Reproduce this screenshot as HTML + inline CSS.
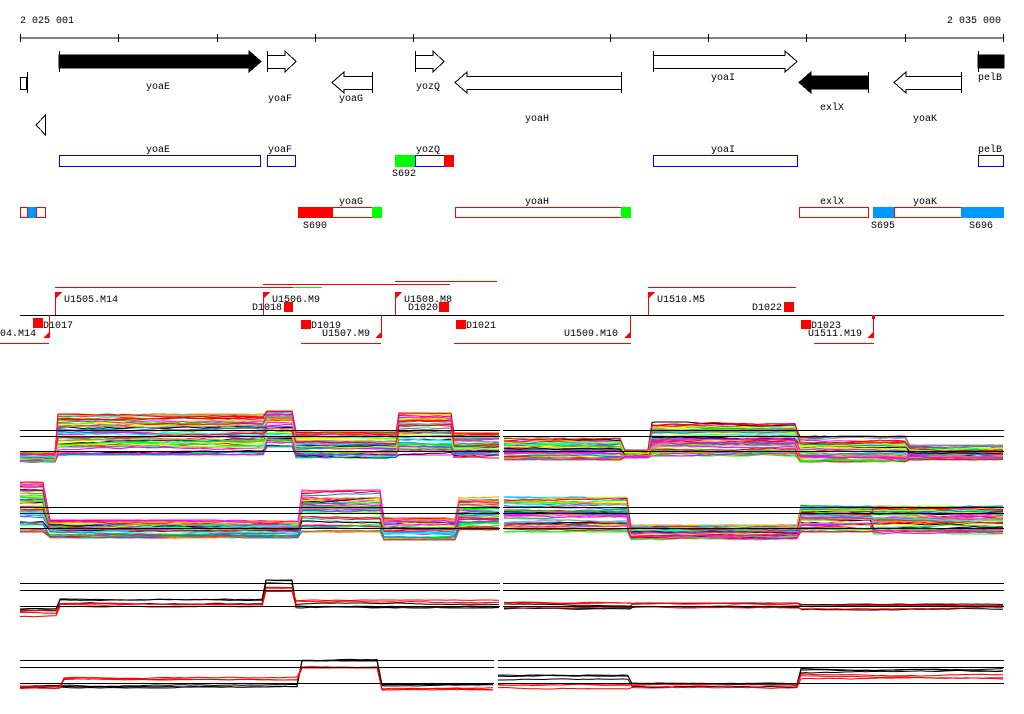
<!DOCTYPE html>
<html><head><meta charset="utf-8"><style>
html,body{margin:0;padding:0;background:#fff}
svg{display:block}
text{font-family:"Liberation Mono",monospace;font-size:10px;fill:#000}
</style></head><body>
<svg id="s" width="1024" height="714" viewBox="0 0 1024 714" xmlns="http://www.w3.org/2000/svg" shape-rendering="crispEdges">
<text x="20" y="23">2 025 001</text>
<text x="947" y="23">2 035 000</text>
<line x1="20" y1="38" x2="1004" y2="38" stroke="#000"/>
<g stroke="#000">
<line x1="20.5" y1="34" x2="20.5" y2="42"/><line x1="118.5" y1="34" x2="118.5" y2="42"/><line x1="217.5" y1="34" x2="217.5" y2="42"/><line x1="315.5" y1="34" x2="315.5" y2="42"/><line x1="413.5" y1="34" x2="413.5" y2="42"/><line x1="610.5" y1="34" x2="610.5" y2="42"/><line x1="708.5" y1="34" x2="708.5" y2="42"/><line x1="806.5" y1="34" x2="806.5" y2="42"/><line x1="905.5" y1="34" x2="905.5" y2="42"/><line x1="1003.5" y1="34" x2="1003.5" y2="42"/>
</g>
<g stroke="#000" fill="#fff">
<rect x="20.5" y="77.5" width="6" height="12"/><line x1="27.5" y1="72" x2="27.5" y2="93"/>
<polygon points="59,55 249,55 249,51 261,61.5 249,72 249,68 59,68" fill="#000"/><line x1="59.5" y1="51" x2="59.5" y2="72"/>
<polygon points="267.5,55.5 285,55.5 285,51 296,61.5 285,72 285,68.5 267.5,68.5"/><line x1="267.5" y1="51" x2="267.5" y2="72"/>
<polygon points="415.5,55.5 433,55.5 433,51 444,61.5 433,72 433,68.5 415.5,68.5"/><line x1="415.5" y1="51" x2="415.5" y2="72"/>
<polygon points="372.5,76.5 344,76.5 344,72 332,82.5 344,93 344,89.5 372.5,89.5"/><line x1="372.5" y1="72" x2="372.5" y2="93"/>
<polygon points="621.5,76.5 467,76.5 467,72 455,82.5 467,93 467,89.5 621.5,89.5"/><line x1="621.5" y1="72" x2="621.5" y2="93"/>
<polygon points="653.5,55.5 785,55.5 785,51 797,61.5 785,72 785,68.5 653.5,68.5"/><line x1="653.5" y1="51" x2="653.5" y2="72"/>
<polygon points="868,76 811,76 811,72 799,82.5 811,93 811,89 868,89" fill="#000"/><line x1="868.5" y1="72" x2="868.5" y2="93"/>
<polygon points="961.5,76.5 906,76.5 906,72 894,82.5 906,93 906,89.5 961.5,89.5"/><line x1="961.5" y1="72" x2="961.5" y2="93"/>
<rect x="978" y="55" width="26" height="13" fill="#000"/><line x1="978.5" y1="51" x2="978.5" y2="72"/>
<polygon points="45.5,115 45.5,135 36,125"/>
</g>
<text x="146" y="89">yoaE</text><text x="268" y="101">yoaF</text><text x="339" y="101">yoaG</text><text x="416" y="89">yozQ</text>
<text x="525" y="121">yoaH</text><text x="711" y="80">yoaI</text><text x="820" y="110">exlX</text><text x="913" y="121">yoaK</text><text x="978" y="80">pelB</text>
<g fill="#fff" stroke="#0000ff">
<rect x="59.5" y="155.5" width="201" height="11"/><rect x="267.5" y="155.5" width="28" height="11"/><rect x="415.5" y="155.5" width="29" height="11"/><rect x="653.5" y="155.5" width="144" height="11"/><rect x="978.5" y="155.5" width="25" height="11"/>
</g>
<rect x="395" y="155" width="20" height="12" fill="#00ff00"/><rect x="444" y="155" width="10" height="12" fill="#ff0000"/>
<text x="146" y="152">yoaE</text><text x="268" y="152">yoaF</text><text x="416" y="152">yozQ</text><text x="711" y="152">yoaI</text><text x="978" y="152">pelB</text>
<text x="392" y="176">S692</text>
<g fill="#fff" stroke="#ff0000">
<rect x="20.5" y="207.5" width="7" height="10"/><rect x="36.5" y="207.5" width="9" height="10"/><rect x="332.5" y="207.5" width="40" height="10"/><rect x="455.5" y="207.5" width="166" height="10"/><rect x="799.5" y="207.5" width="69" height="10"/><rect x="894.5" y="207.5" width="67" height="10"/>
</g>
<rect x="28" y="207" width="8" height="11" fill="#0099ff"/>
<rect x="298" y="207" width="35" height="11" fill="#ff0000"/><rect x="372" y="207" width="10" height="11" fill="#00ff00"/>
<rect x="621" y="207" width="10" height="11" fill="#00ff00"/>
<rect x="873" y="207" width="21" height="11" fill="#0099ff"/><rect x="961" y="207" width="43" height="11" fill="#0099ff"/>
<text x="339" y="204">yoaG</text><text x="525" y="204">yoaH</text><text x="820" y="204">exlX</text><text x="913" y="204">yoaK</text>
<text x="303" y="228">S690</text><text x="871" y="228">S695</text><text x="969" y="228">S696</text>
<line x1="20" y1="315.5" x2="1004" y2="315.5" stroke="#000"/>
<g stroke="#ff0000">
<line x1="55" y1="287.5" x2="293" y2="287.5"/><line x1="263" y1="284.5" x2="450" y2="284.5"/><line x1="395" y1="281.5" x2="497" y2="281.5"/><line x1="648" y1="287.5" x2="796" y2="287.5"/>
<line x1="0" y1="343.5" x2="49" y2="343.5"/><line x1="301" y1="343.5" x2="381" y2="343.5"/><line x1="454" y1="343.5" x2="631" y2="343.5"/><line x1="814" y1="343.5" x2="874" y2="343.5"/>
<line x1="55.5" y1="292" x2="55.5" y2="315"/><line x1="263.5" y1="292" x2="263.5" y2="315"/><line x1="395.5" y1="292" x2="395.5" y2="315"/><line x1="648.5" y1="292" x2="648.5" y2="315"/>
<line x1="49.5" y1="315" x2="49.5" y2="338"/><line x1="381.5" y1="315" x2="381.5" y2="338"/><line x1="630.5" y1="315" x2="630.5" y2="338"/><line x1="873.5" y1="315" x2="873.5" y2="338"/>
</g>
<line x1="293" y1="287.5" x2="322" y2="287.5" stroke="#00ff00"/>
<g fill="#ff0000">
<polygon points="55,292 62,292 55,299"/><polygon points="263,292 270,292 263,299"/><polygon points="395,292 402,292 395,299"/><polygon points="648,292 655,292 648,299"/>
<polygon points="50,338 43,338 50,331"/><polygon points="382,338 375,338 382,331"/><polygon points="631,338 624,338 631,331"/><polygon points="874,338 867,338 874,331"/>
<rect x="33" y="318" width="10" height="10"/><rect x="284" y="302" width="9" height="10"/><rect x="301" y="320" width="10" height="9"/><rect x="439" y="302" width="10" height="10"/><rect x="456" y="320" width="10" height="9"/><rect x="784" y="302" width="10" height="10"/><rect x="801" y="320" width="10" height="9"/><rect x="872" y="315" width="3" height="4"/>
</g>
<text x="64" y="302">U1505.M14</text><text x="272" y="302">U1506.M9</text><text x="404" y="302">U1508.M8</text><text x="657" y="302">U1510.M5</text>
<text x="252" y="310">D1018</text><text x="408" y="310">D1020</text><text x="752" y="310">D1022</text>
<text x="43" y="328">D1017</text><text x="311" y="328">D1019</text><text x="466" y="328">D1021</text><text x="811" y="328">D1023</text>
<text x="-6" y="336">504.M14</text><text x="322" y="336">U1507.M9</text><text x="564" y="336">U1509.M10</text><text x="808" y="336">U1511.M19</text>
<g id="plots" shape-rendering="auto"></g>
</svg>
<script>
(function(){
var g=document.getElementById('plots'),ns='http://www.w3.org/2000/svg';
var seed=7;function r(){seed=(seed*16807)%2147483647;return seed/2147483647;}
function ln(x1,y,x2){var l=document.createElementNS(ns,'line');l.setAttribute('x1',x1);l.setAttribute('x2',x2);l.setAttribute('y1',y+.5);l.setAttribute('y2',y+.5);l.setAttribute('stroke','#000');l.setAttribute('shape-rendering','crispEdges');g.appendChild(l);}
var pal=['#ff0000','#00ff00','#0080ff','#ff00ff','#00ffff','#ccff00','#ff9900','#999999','#ff0000','#ff00ff','#00ff00','#0080ff','#996655','#ffff00','#000000'];
function draw(segs,n,colors,nz){
 nz=nz||2.5;
 for(var i=0;i<n;i++){
  var f=r(),pts=[],c=colors?colors[i%colors.length]:pal[i%pal.length];
  for(var s=0;s<segs.length;s++){var S=segs[s];var f2=Math.min(1,Math.max(0,f+(r()-.5)*.3));
   var y=S[2]+f2*(S[3]-S[2]);
   for(var x=S[0];x<=S[1];x+=5){y+=(r()-.5)*nz*0.5;if(y<S[2])y=S[2];if(y>S[3])y=S[3];pts.push(x+','+y.toFixed(1));}
   pts.push(S[1]+','+y.toFixed(1));}
  var p=document.createElementNS(ns,'polyline');p.setAttribute('points',pts.join(' '));p.setAttribute('fill','none');p.setAttribute('stroke',c);p.setAttribute('stroke-width','1');g.appendChild(p);
 }}
var L=[[20,55,452,462],[58,263,414,455],[267,292,411,447],[296,396,432,458],[399,451,413,455],[454,499,433,458]];
var R=[[504,620,438,460],[625,648,450,458],[652,795,422,456],[800,905,436,462],[910,1003,445,460]];
draw(L,55);draw(R,55);
L=[[20,43,482,532],[50,298,520,538],[302,380,490,532],[384,455,518,540],[459,499,497,530]];
R=[[504,627,497,532],[631,797,525,540],[801,870,505,532],[874,1003,506,534]];
draw(L,55);draw(R,55);
var K=['#000000'],Rd=['#ff0000'];
draw([[20,56,606,612],[60,262,596,604],[266,292,578,584],[296,499,603,608]],3,K,1.5);
draw([[20,56,610,618],[60,262,603,607],[266,292,586,592],[296,499,600,607]],3,Rd,1.5);
draw([[504,630,604,610],[634,798,603,608],[802,1003,604,610]],3,K,1.5);
draw([[504,630,602,608],[634,798,603,608],[802,1003,605,611]],3,Rd,1.5);
draw([[20,297,682,688],[302,377,657,661],[382,493,682,686]],3,K,1.5);
draw([[20,60,680,689],[64,297,670,680],[302,377,663,668],[382,493,686,690]],3,Rd,1.5);
draw([[498,628,675,680],[632,797,683,687],[801,1003,668,673]],3,K,1.5);
draw([[498,628,684,689],[632,797,684,689],[801,1003,674,680]],3,Rd,1.5);
[430,436,451].forEach(function(y){ln(20,y,500);ln(503,y,1004);});
[507,513,528].forEach(function(y){ln(20,y,500);ln(503,y,1004);});
[583,590,606].forEach(function(y){ln(20,y,500);ln(503,y,1004);});
[660,667,683].forEach(function(y){ln(20,y,494);ln(498,y,1004);});
})();
</script>
</body></html>
